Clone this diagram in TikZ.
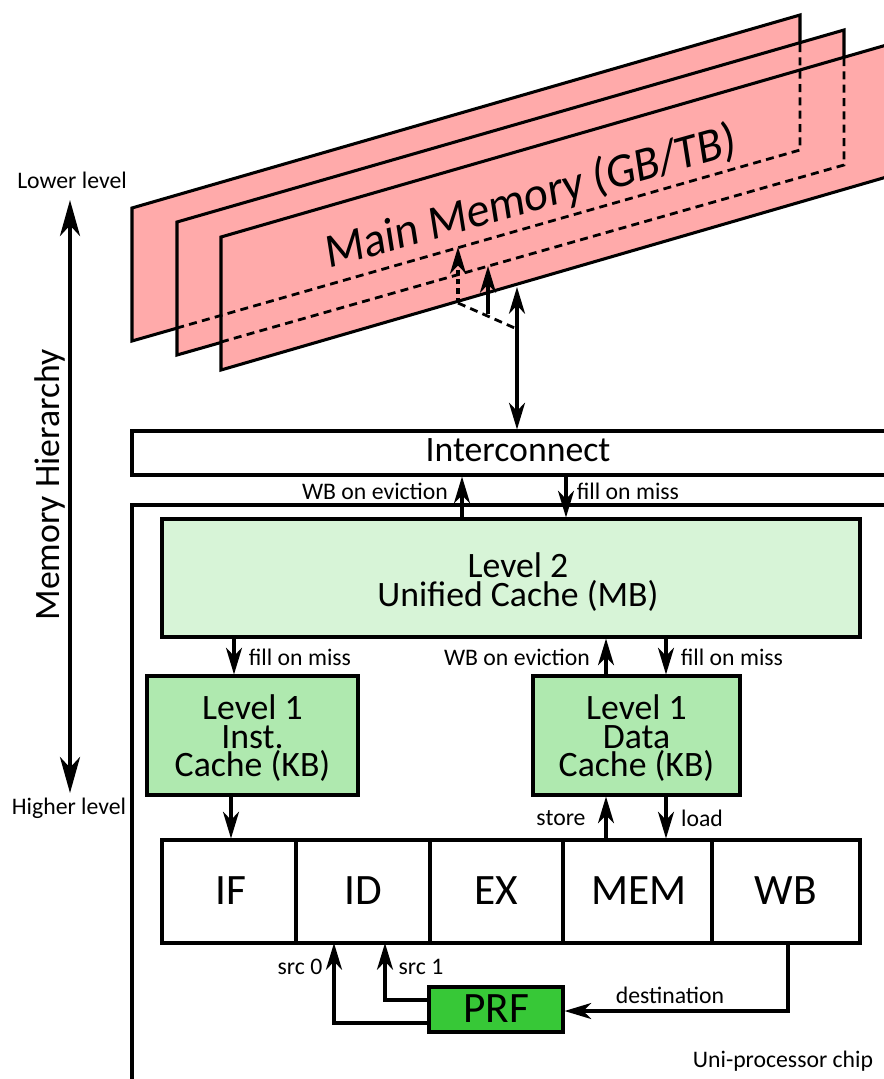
\documentclass[tikz,border=0pt]{standalone}
\usepackage{fontspec}
\setmainfont{Carlito}
\usetikzlibrary{arrows.meta}
\definecolor{pinkfill}{HTML}{FFAAAA}
\definecolor{ltwo}{HTML}{D7F4D7}
\definecolor{lone}{HTML}{AFE9AF}
\definecolor{prfgreen}{HTML}{37C837}
\newcommand{\fs}[2]{\fontsize{#1}{#2}\selectfont\lineskiplimit=-100pt\relax}
\tikzset{
  px/.style={x=0.75pt,y=-0.75pt},
  plane/.style={fill=pinkfill,draw=black,line width=2.3pt,line join=miter},
  hidden/.style={draw=black,line width=2.1pt,dash pattern=on 6pt off 4pt},
  blockbox/.style={draw=black,line width=2.3pt,inner sep=0pt,align=center},
  conn/.style={draw=black,line width=2.3pt,-{Stealth[length=20pt,width=12pt,inset=6pt]}},
  conntwo/.style={draw=black,line width=2.3pt,{Stealth[length=20pt,width=12pt,inset=6pt]}-{Stealth[length=20pt,width=12pt,inset=6pt]}},
  lab/.style={inner sep=0pt,font=\fs{17.8}{20}},
  big/.style={font=\fs{26.8}{21.5}},
  huge/.style={font=\fs{32.5}{34},text height=20pt,text depth=0pt},
}
\begin{document}
\begin{tikzpicture}[px]
\useasboundingbox (0,0) rectangle (884,1079);
\clip (0,0) rectangle (884,1079);
% memory planes
\draw[plane] (132,208) -- (800,15) -- (800,150) -- (132,341) -- cycle;
\draw[plane] (177,222) -- (844,30) -- (844,165) -- (177,355) -- cycle;
\draw[plane] (221,237) -- (890,44) -- (890,176) -- (221,370) -- cycle;
\draw[hidden] (800,44) -- (800,150) -- (177,328);
\draw[hidden] (844,58) -- (844,165) -- (221,342);
\coordinate (mmc) at (531,198);
\node[cm={1,0.28,-0.17,1.07,(0,0)},transform shape,font=\fs{33.3}{36},inner sep=0pt] (mm) at (mmc) {Main Memory (GB/TB)};
% plane feeds
\coordinate (feedA) at (458,303);
\coordinate (feedAtip) at (458,247);
\coordinate (feedB) at (488,314);
\coordinate (feedBtip) at (488,266);
\coordinate (feedC) at (517,329);
\coordinate (feedCtip) at (517,287);
% interconnect and chip
\draw[draw=black,line width=2.3pt] (900,505) -- (132,505) -- (132,1095);
\node[blockbox,big,fill=white,text depth=4.5pt,minimum width=772*0.75pt,minimum height=44*0.75pt] (ic) at (518,453) {Interconnect};
\draw[hidden] (feedA) -- (feedC);
\draw[conn,dash pattern=on 4pt off 3pt] (feedA) -- (feedAtip);
\draw[conn] (feedB) -- (feedBtip);
\draw[conntwo] (ic.north -| feedC) -- (feedCtip);
% caches
\node[blockbox,big,fill=ltwo,minimum width=698*0.75pt,minimum height=118*0.75pt] (l2) at (511,578) {\hspace*{10.5pt}\rule{0pt}{24.8pt}Level 2\\\hspace*{10.5pt}Unified Cache (MB)};
\node[blockbox,big,fill=lone,minimum width=211*0.75pt,minimum height=119*0.75pt] (l1i) at (252.5,735.5) {\rule{0pt}{22.6pt}Level 1\\Inst.\\Cache (KB)};
\node[blockbox,big,fill=lone,minimum width=207*0.75pt,minimum height=119*0.75pt] (l1d) at (636.5,735.5) {\rule{0pt}{22.6pt}Level 1\\Data\\Cache (KB)};
% pipeline
\node[blockbox,minimum width=134*0.75pt,minimum height=103*0.75pt,huge] (if) at (229,891.5) {\hspace*{3pt}IF};
\node[blockbox,minimum width=134*0.75pt,minimum height=103*0.75pt,huge] (id) at (363,891.5) {ID};
\node[blockbox,minimum width=133*0.75pt,minimum height=103*0.75pt,huge] (ex) at (496.5,891.5) {EX};
\node[blockbox,minimum width=149*0.75pt,minimum height=103*0.75pt,huge] (mem) at (637.5,891.5) {\hspace*{2pt}MEM};
\node[blockbox,minimum width=148*0.75pt,minimum height=103*0.75pt,huge] (wb) at (786,891.5) {WB};
\node[blockbox,fill=prfgreen,minimum width=134*0.75pt,minimum height=45*0.75pt,huge] (prf) at (496,1009.5) {PRF};
% connectors
\coordinate (xa) at (462,0);
\coordinate (xb) at (566,0);
\coordinate (xc) at (234,0);
\coordinate (xd) at (606,0);
\coordinate (xe) at (666,0);
\coordinate (xf) at (231,0);
\draw[conn] (l2.north -| xa) -- (ic.south -| xa);
\draw[conn] (ic.south -| xb) -- (l2.north -| xb);
\draw[conn] (l2.south -| xc) -- (l1i.north -| xc);
\draw[conn] (l1d.north -| xd) -- (l2.south -| xd);
\draw[conn] (l2.south -| xe) -- (l1d.north -| xe);
\draw[conn] (l1i.south -| xf) -- (if.north -| xf);
\draw[conn] (mem.north -| xd) -- (l1d.south -| xd);
\draw[conn] (l1d.south -| xe) -- (mem.north -| xe);
\coordinate (srca) at (429,1023);
\coordinate (srcb) at (429,1000);
\coordinate (dest) at (788,1011);
\draw[conn] (srca) -| (334,943);
\draw[conn] (srcb) -| (385,943);
\draw[conn] (wb.south -| dest) -- (dest) -- (prf.east |- dest);
% hierarchy arrow
\coordinate (hiertop) at (70,200);
\coordinate (hierbot) at (70,793);
\draw[draw=black,line width=3.2pt,{Stealth[length=27pt,width=15pt,inset=8pt]}-{Stealth[length=27pt,width=15pt,inset=8pt]}] (hiertop) -- (hierbot);
% labels
\node[rotate=90,font=\fs{26.8}{28},inner sep=0pt] (mh) at (50,485) {Memory Hierarchy};
\node[lab] (ll) at (72,180) {Lower level};
\node[lab] (hl) at (69,808) {Higher level};
\node[lab] (a) at (375,491) {WB on eviction};
\node[lab] (b) at (628,491) {fill on miss};
\node[lab] (c) at (300,657) {fill on miss};
\node[lab] (d) at (517,657) {WB on eviction};
\node[lab] (e) at (732,657) {fill on miss};
\node[lab] (f) at (561,818) {store};
\node[lab] (g) at (702,818) {load};
\node[lab] (h) at (300,967) {src 0};
\node[lab] (i) at (421,967) {src 1};
\node[lab] (j) at (670,995) {destination};
\node[lab] (k) at (783,1061) {Uni-processor chip};
\end{tikzpicture}
\end{document}
